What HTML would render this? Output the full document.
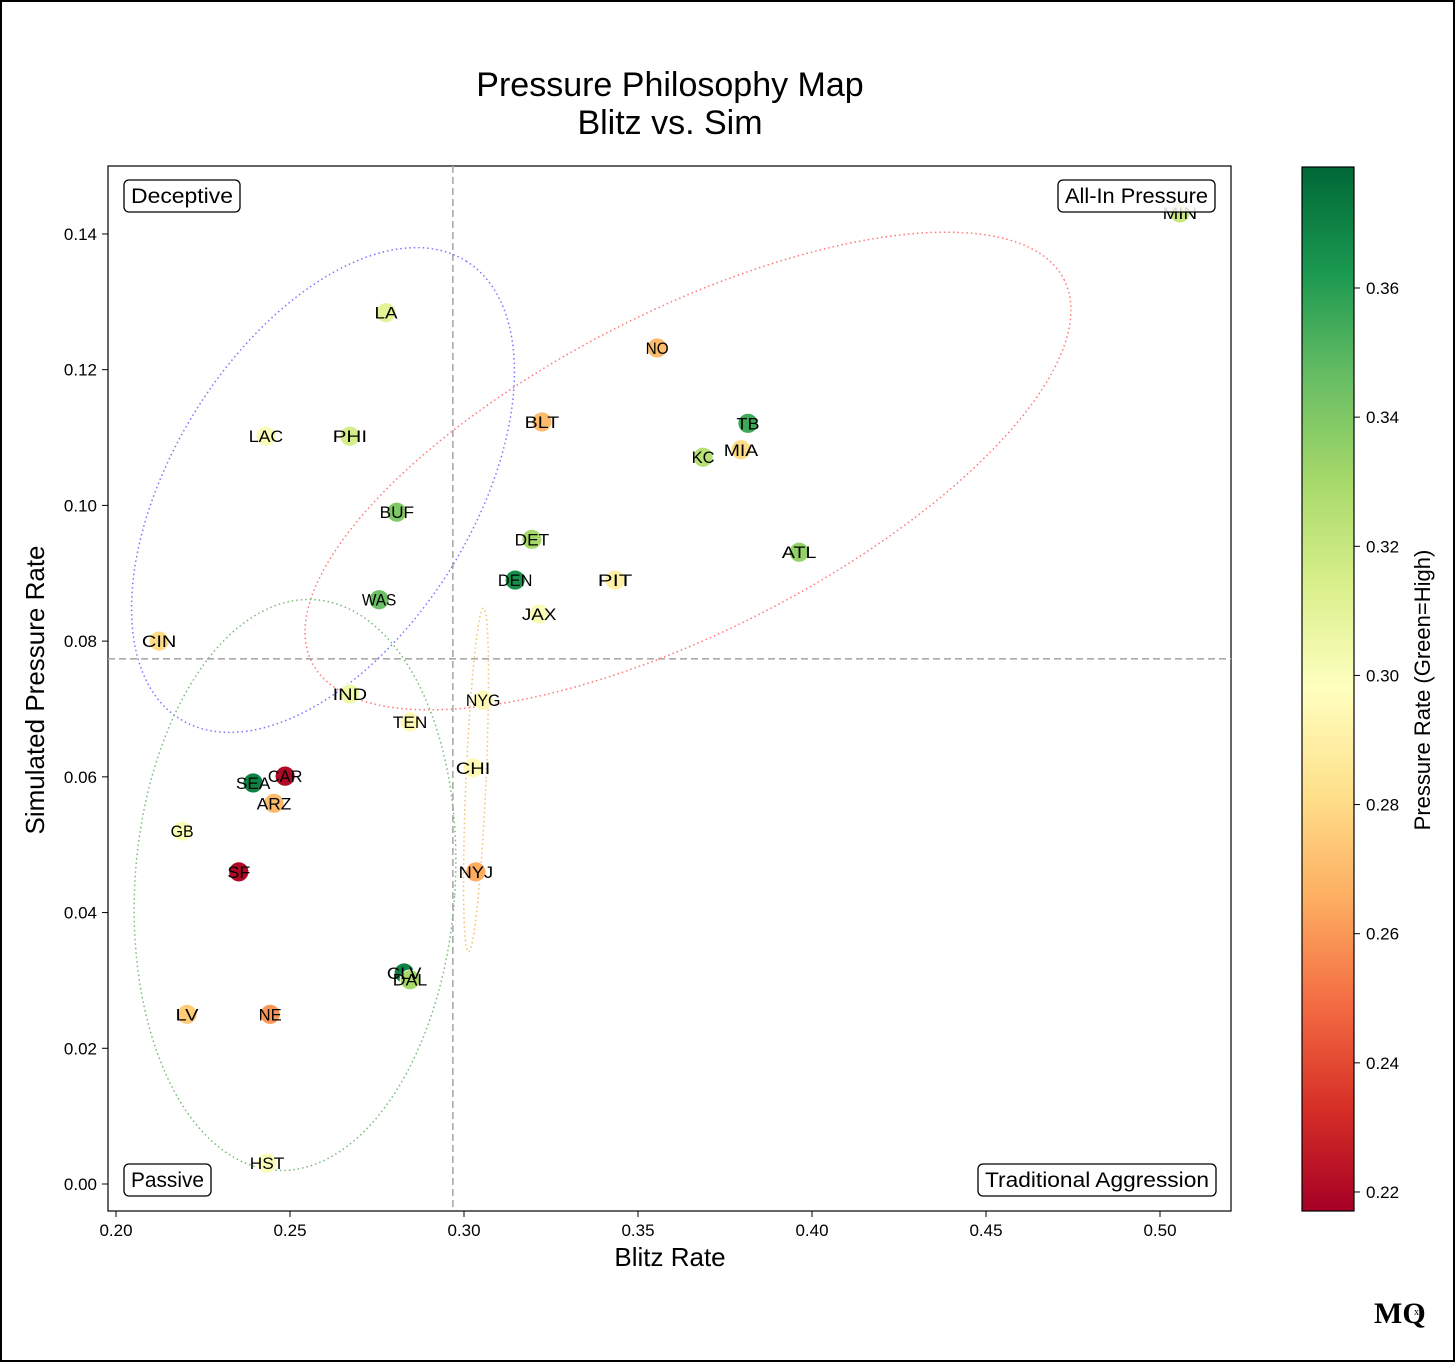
<!DOCTYPE html>
<html><head><meta charset="utf-8"><style>
body{margin:0;background:#fff;}
svg{display:block;font-family:"Liberation Sans",sans-serif;}
</style></head><body>
<svg id="fig" width="1456" height="1363" viewBox="0 0 1456 1363">
<rect x="1" y="1" width="1453" height="1360" fill="#fff" stroke="#000" stroke-width="2"/>
<text x="670" y="96" font-size="34" text-anchor="middle">Pressure Philosophy Map</text>
<text x="670" y="134" font-size="34" text-anchor="middle">Blitz vs. Sim</text>
<g id="plot"></g>
<text x="670" y="1266" font-size="26" text-anchor="middle">Blitz Rate</text>
<text transform="translate(44,690) rotate(-90)" font-size="26" text-anchor="middle">Simulated Pressure Rate</text>
<g id="cbar"></g>
<text transform="translate(1430,690) rotate(-90)" font-size="22" text-anchor="middle">Pressure Rate (Green=High)</text>
<text x="1374" y="1323" font-size="30" font-weight="bold" font-family="Liberation Serif,serif">MQ</text>
<text x="1414" y="1315" font-size="10" font-family="Liberation Serif,serif">x</text>
</svg>
<script>
const teams=["MIN","LA","NO","LAC","PHI","BLT","TB","KC","MIA","BUF","DET","ATL","DEN","PIT","WAS","JAX","CIN","IND","NYG","TEN","CHI","CAR","SEA","ARZ","GB","SF","NYJ","CLV","DAL","LV","NE","HST"];
const blitz=[0.5057,0.2776,0.3555,0.2431,0.2672,0.3224,0.3816,0.3687,0.3796,0.2807,0.3195,0.3963,0.3147,0.3434,0.2756,0.3216,0.2124,0.2672,0.3055,0.2845,0.3026,0.2486,0.2394,0.2454,0.219,0.2353,0.3034,0.2828,0.2845,0.2204,0.2443,0.2434];
const sim=[0.1431,0.1284,0.1232,0.1102,0.1102,0.1123,0.1121,0.1071,0.1082,0.099,0.095,0.0931,0.089,0.089,0.0861,0.084,0.080,0.0722,0.0713,0.0681,0.0613,0.0601,0.0591,0.0561,0.052,0.046,0.046,0.0311,0.0301,0.025,0.025,0.0031];
const pressure=[0.32,0.31,0.27,0.30,0.315,0.27,0.355,0.325,0.28,0.34,0.33,0.335,0.365,0.29,0.345,0.30,0.28,0.305,0.295,0.295,0.295,0.22,0.37,0.27,0.30,0.22,0.265,0.37,0.33,0.275,0.26,0.30];
const xTicks=[0.20,0.25,0.30,0.35,0.40,0.45,0.50];
const yTicks=[0.00,0.02,0.04,0.06,0.08,0.10,0.12,0.14];
const cTicks=[0.22,0.24,0.26,0.28,0.30,0.32,0.34,0.36];
const meanBlitz=0.2968, meanSim=0.0774;
const NS="http://www.w3.org/2000/svg";
const X=v=>116+(v-0.2)*3480, Y=v=>1184-v*6786;
const CT=v=>288+(0.36-v)*6457;
const cmin=0.2171,cmax=0.3787;
const stops=["#a50026","#d73027","#f46d43","#fdae61","#fee08b","#ffffbf","#d9ef8b","#a6d96a","#66bd63","#1a9850","#006837"];
function hex(h){return [1,3,5].map(i=>parseInt(h.substr(i,2),16));}
function cmap(v){let t=Math.max(0,Math.min(1,(v-cmin)/(cmax-cmin)))*10;let i=Math.min(9,Math.floor(t)),f=t-i;const a=hex(stops[i]),b=hex(stops[i+1]);return "rgb("+a.map((c,k)=>Math.round(c+(b[k]-c)*f)).join(",")+")";}
function el(tag,attrs,parent,txt){const e=document.createElementNS(NS,tag);for(const k in attrs)e.setAttribute(k,attrs[k]);if(txt!==undefined)e.textContent=txt;parent.appendChild(e);return e;}
const plot=document.getElementById('plot');
el('rect',{x:108,y:166,width:1123,height:1045,fill:'#fff',stroke:'#000','stroke-width':1.2},plot);
xTicks.forEach(v=>{el('line',{x1:X(v),x2:X(v),y1:1211,y2:1217,stroke:'#000'},plot);
 const t=el('text',{x:X(v),y:1236,'font-size':17,'text-anchor':'middle'},plot,v.toFixed(2));
 
 });
yTicks.forEach(v=>{el('line',{x1:102,x2:108,y1:Y(v),y2:Y(v),stroke:'#000'},plot);
 const t=el('text',{x:97,y:Y(v)+6,'font-size':17,'text-anchor':'end'},plot,v.toFixed(2));
 
 });
let ml=el('line',{x1:X(meanBlitz),x2:X(meanBlitz),y1:166,y2:1211,stroke:'#aaa','stroke-width':1.6,'stroke-dasharray':'7,4'},plot);


ml=el('line',{x1:108,x2:1231,y1:Y(meanSim),y2:Y(meanSim),stroke:'#aaa','stroke-width':1.6,'stroke-dasharray':'7,4'},plot);


[[323,490,270,150,-58,'#7777ff','cluster-deceptive'],[688,471,422,160,-27,'#ff7777','cluster-all-in'],[295,885,160,286,4,'#77bb77','cluster-passive'],[476,780,10,172,2.5,'#f5c06a','cluster-traditional']].forEach(e=>{
 const g=el('ellipse',{cx:e[0],cy:e[1],rx:e[2],ry:e[3],transform:`rotate(${e[4]} ${e[0]} ${e[1]})`,fill:'none',stroke:e[5],'stroke-width':1.5,'stroke-dasharray':'1.5,3'},plot);
 
 });
teams.forEach((t,i)=>{
 const c=el('circle',{cx:X(blitz[i]),cy:Y(sim[i]),r:10,fill:cmap(pressure[i]),stroke:'#fff','stroke-width':0.8},plot);
 
 
});
teams.forEach((t,i)=>{
 const l=el('text',{x:X(blitz[i]),y:Y(sim[i])+6,'font-size':17,'text-anchor':'middle','textLength':t.length*11.5,'lengthAdjust':'spacingAndGlyphs'},plot,t);
 
 
});
[[124,180,116,'Deceptive','quadrant-deceptive'],[1058,180,157,'All-In Pressure','quadrant-all-in'],[124,1164,87,'Passive','quadrant-passive'],[978,1164,238,'Traditional Aggression','quadrant-traditional']].forEach(q=>{
 const r=el('rect',{x:q[0],y:q[1],width:q[2],height:32,rx:5,fill:'#fff','fill-opacity':0.85,stroke:'#000','stroke-width':1.3},plot);
 
 
 const t=el('text',{x:q[0]+q[2]/2,y:q[1]+23,'font-size':21,'text-anchor':'middle','textLength':q[2]-14,'lengthAdjust':'spacingAndGlyphs'},plot,q[3]);
 
 
});
const cb=document.getElementById('cbar');
const defs=el('defs',{},cb);
const lg=el('linearGradient',{id:'cg',x1:0,y1:1,x2:0,y2:0},defs);
stops.forEach((s,i)=>el('stop',{offset:(i*10)+'%','stop-color':s},lg));
el('rect',{x:1302,y:167,width:52,height:1044,fill:'url(#cg)',stroke:'#000','stroke-width':1.2},cb);
cTicks.forEach(v=>{el('line',{x1:1354,x2:1360,y1:CT(v),y2:CT(v),stroke:'#000'},cb);
 const t=el('text',{x:1366,y:CT(v)+6,'font-size':17},cb,v.toFixed(2));
 
 });
</script>
</body></html>
